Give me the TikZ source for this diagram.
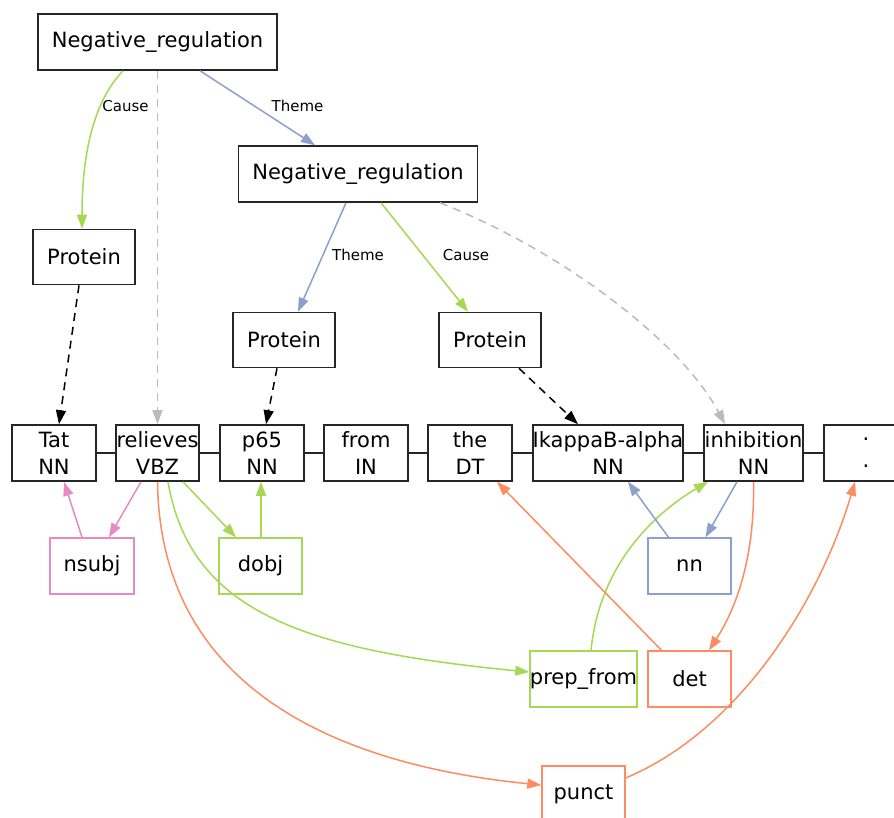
\documentclass[tikz,border=0pt]{standalone}
\usepackage{fontspec}
\setmainfont{DejaVu Sans}
\usetikzlibrary{arrows.meta,calc}
\definecolor{sgreen}{HTML}{A6D854}
\definecolor{sblue}{HTML}{8DA0CB}
\definecolor{spink}{HTML}{E78AC3}
\definecolor{sorange}{HTML}{FC8D62}
\definecolor{sgray}{HTML}{BBBBBB}
\tikzset{
  box/.style={draw=black!85,line width=1.6pt,inner sep=0pt,align=center,
    font=\fontsize{21}{27}\selectfont},
  evbox/.style={box,minimum width=239pt,minimum height=56pt},
  protbox/.style={box,minimum width=102pt,minimum height=55pt},
  tokbox/.style={box,minimum height=56pt},
  depbox/.style={draw,line width=1.4pt,inner sep=0pt,minimum height=56pt,
    font=\fontsize{21}{27}\selectfont},
  lbl/.style={font=\fontsize{15}{17}\selectfont,inner sep=0pt},
  tip/.style={-{Triangle[length=14pt,width=10pt]}},
  arg/.style={tip,line width=1.5pt},
  trig/.style={tip,line width=1.5pt,dash pattern=on 8pt off 6pt},
  chain/.style={line width=1.6pt,draw=black!85},
}
\begin{document}
\begin{tikzpicture}[x=1pt,y=-1pt]
\useasboundingbox[fill=white] (0,0) rectangle (894,817);
% event / protein nodes
\node[evbox] (nr1) at (157.5,42) {Negative\_regulation};
\node[evbox] (nr2) at (358,174) {Negative\_regulation};
\node[protbox] (p1) at (84,257) {Protein};
\node[protbox] (p2) at (284,340) {Protein};
\node[protbox] (p3) at (490,340) {Protein};
% tokens
\node[tokbox,minimum width=84pt] (tat) at (54,453) {Tat\\NN};
\node[tokbox,minimum width=83pt] (rel) at (157.5,453) {relieves\\VBZ};
\node[tokbox,minimum width=84pt] (p65) at (262,453) {p65\\NN};
\node[tokbox,minimum width=84pt] (from) at (366,453) {from\\IN};
\node[tokbox,minimum width=84pt] (the) at (470,453) {the\\DT};
\node[tokbox,minimum width=150pt] (ikb) at (608,453) {IkappaB-alpha\\NN};
\node[tokbox,minimum width=99pt] (inh) at (753.5,453) {inhibition\\NN};
\node[tokbox,minimum width=84pt] (dot) at (866,453) {.\\.};
% dependency nodes
\node[depbox,draw=spink,minimum width=84pt] (nsubj) at (92,566) {nsubj};
\node[depbox,draw=sgreen,minimum width=83pt] (dobj) at (260.5,566) {dobj};
\node[depbox,draw=sblue,minimum width=83pt] (nn) at (689.5,566) {nn};
\node[depbox,draw=sgreen,minimum width=107pt] (prep) at (583.5,679) {prep\_from};
\node[depbox,draw=sorange,minimum width=83pt] (det) at (689.5,679) {det};
\node[depbox,draw=sorange,minimum width=83pt] (punct) at (583.5,794) {punct};
% chain
\draw[chain] (tat) -- (rel);
\draw[chain] (rel) -- (p65);
\draw[chain] (p65) -- (from);
\draw[chain] (from) -- (the);
\draw[chain] (the) -- (ikb);
\draw[chain] (ikb) -- (inh);
\draw[chain] (inh) -- (dot);
% event arguments
\draw[arg,sgreen] ([xshift=-34.5pt]nr1.south) .. controls (95,100) and (82,150) .. ([xshift=-2pt]p1.north);
\draw[arg,sblue] ([xshift=42.5pt]nr1.south) -- ([xshift=-43pt]nr2.north);
\draw[trig,sgray] (nr1.south) -- (rel.north);
\draw[arg,sblue] ([xshift=-12pt]nr2.south) -- ([xshift=14pt]p2.north);
\draw[arg,sgreen] ([xshift=23pt]nr2.south) -- ([xshift=-22pt]p3.north);
\draw[trig,sgray] ([xshift=82pt]nr2.south) .. controls (560,250) and (680,340) .. ([xshift=-28.5pt]inh.north);
\node[lbl] (lc1) at (125.5,106) {Cause};
\node[lbl] (lt1) at (297.5,106) {Theme};
\node[lbl] (lt2) at (358,255) {Theme};
\node[lbl] (lc2) at (466,255) {Cause};
% protein triggers
\draw[trig,black] ([xshift=-5pt]p1.south) -- ([xshift=5pt]tat.north);
\draw[trig,black] ([xshift=-7pt]p2.south) -- ([xshift=4pt]p65.north);
\draw[trig,black] ([xshift=29pt]p3.south) -- ([xshift=-30pt]ikb.north);
% dependencies
\draw[arg,spink] ([xshift=-10pt]nsubj.north) -- ([xshift=10pt]tat.south);
\draw[arg,spink] ([xshift=-16.5pt]rel.south) -- ([xshift=17pt]nsubj.north);
\draw[arg,sgreen] ([xshift=25.5pt]rel.south) -- ([xshift=-24.5pt]dobj.north);
\draw[arg,sgreen] ([xshift=0.5pt]dobj.north) -- ([xshift=-1pt]p65.south);
\draw[arg,sgreen] ([xshift=10.5pt]rel.south) .. controls (190,610) and (300,650) .. ([yshift=7pt]prep.west);
\draw[arg,sorange] (rel.south) .. controls (160,690) and (340,765) .. ([yshift=9pt]punct.west);
\draw[arg,sgreen] ([xshift=7.5pt]prep.north) .. controls (600,560) and (660,510) .. ([xshift=-45.5pt]inh.south);
\draw[arg,sorange] ([xshift=-28pt]det.north) -- ([xshift=27pt]the.south);
\draw[arg,sblue] ([xshift=-21pt]nn.north) -- ([xshift=20pt]ikb.south);
\draw[arg,sblue] ([xshift=-16.5pt]inh.south) -- ([xshift=16pt]nn.north);
\draw[arg,sorange] (inh.south) .. controls (755,560) and (735,610) .. ([xshift=19.5pt]det.north);
\draw[arg,sorange] ([yshift=16pt]punct.east) .. controls (740,730) and (820,600) .. ([xshift=-11pt]dot.south);
\end{tikzpicture}
\end{document}
